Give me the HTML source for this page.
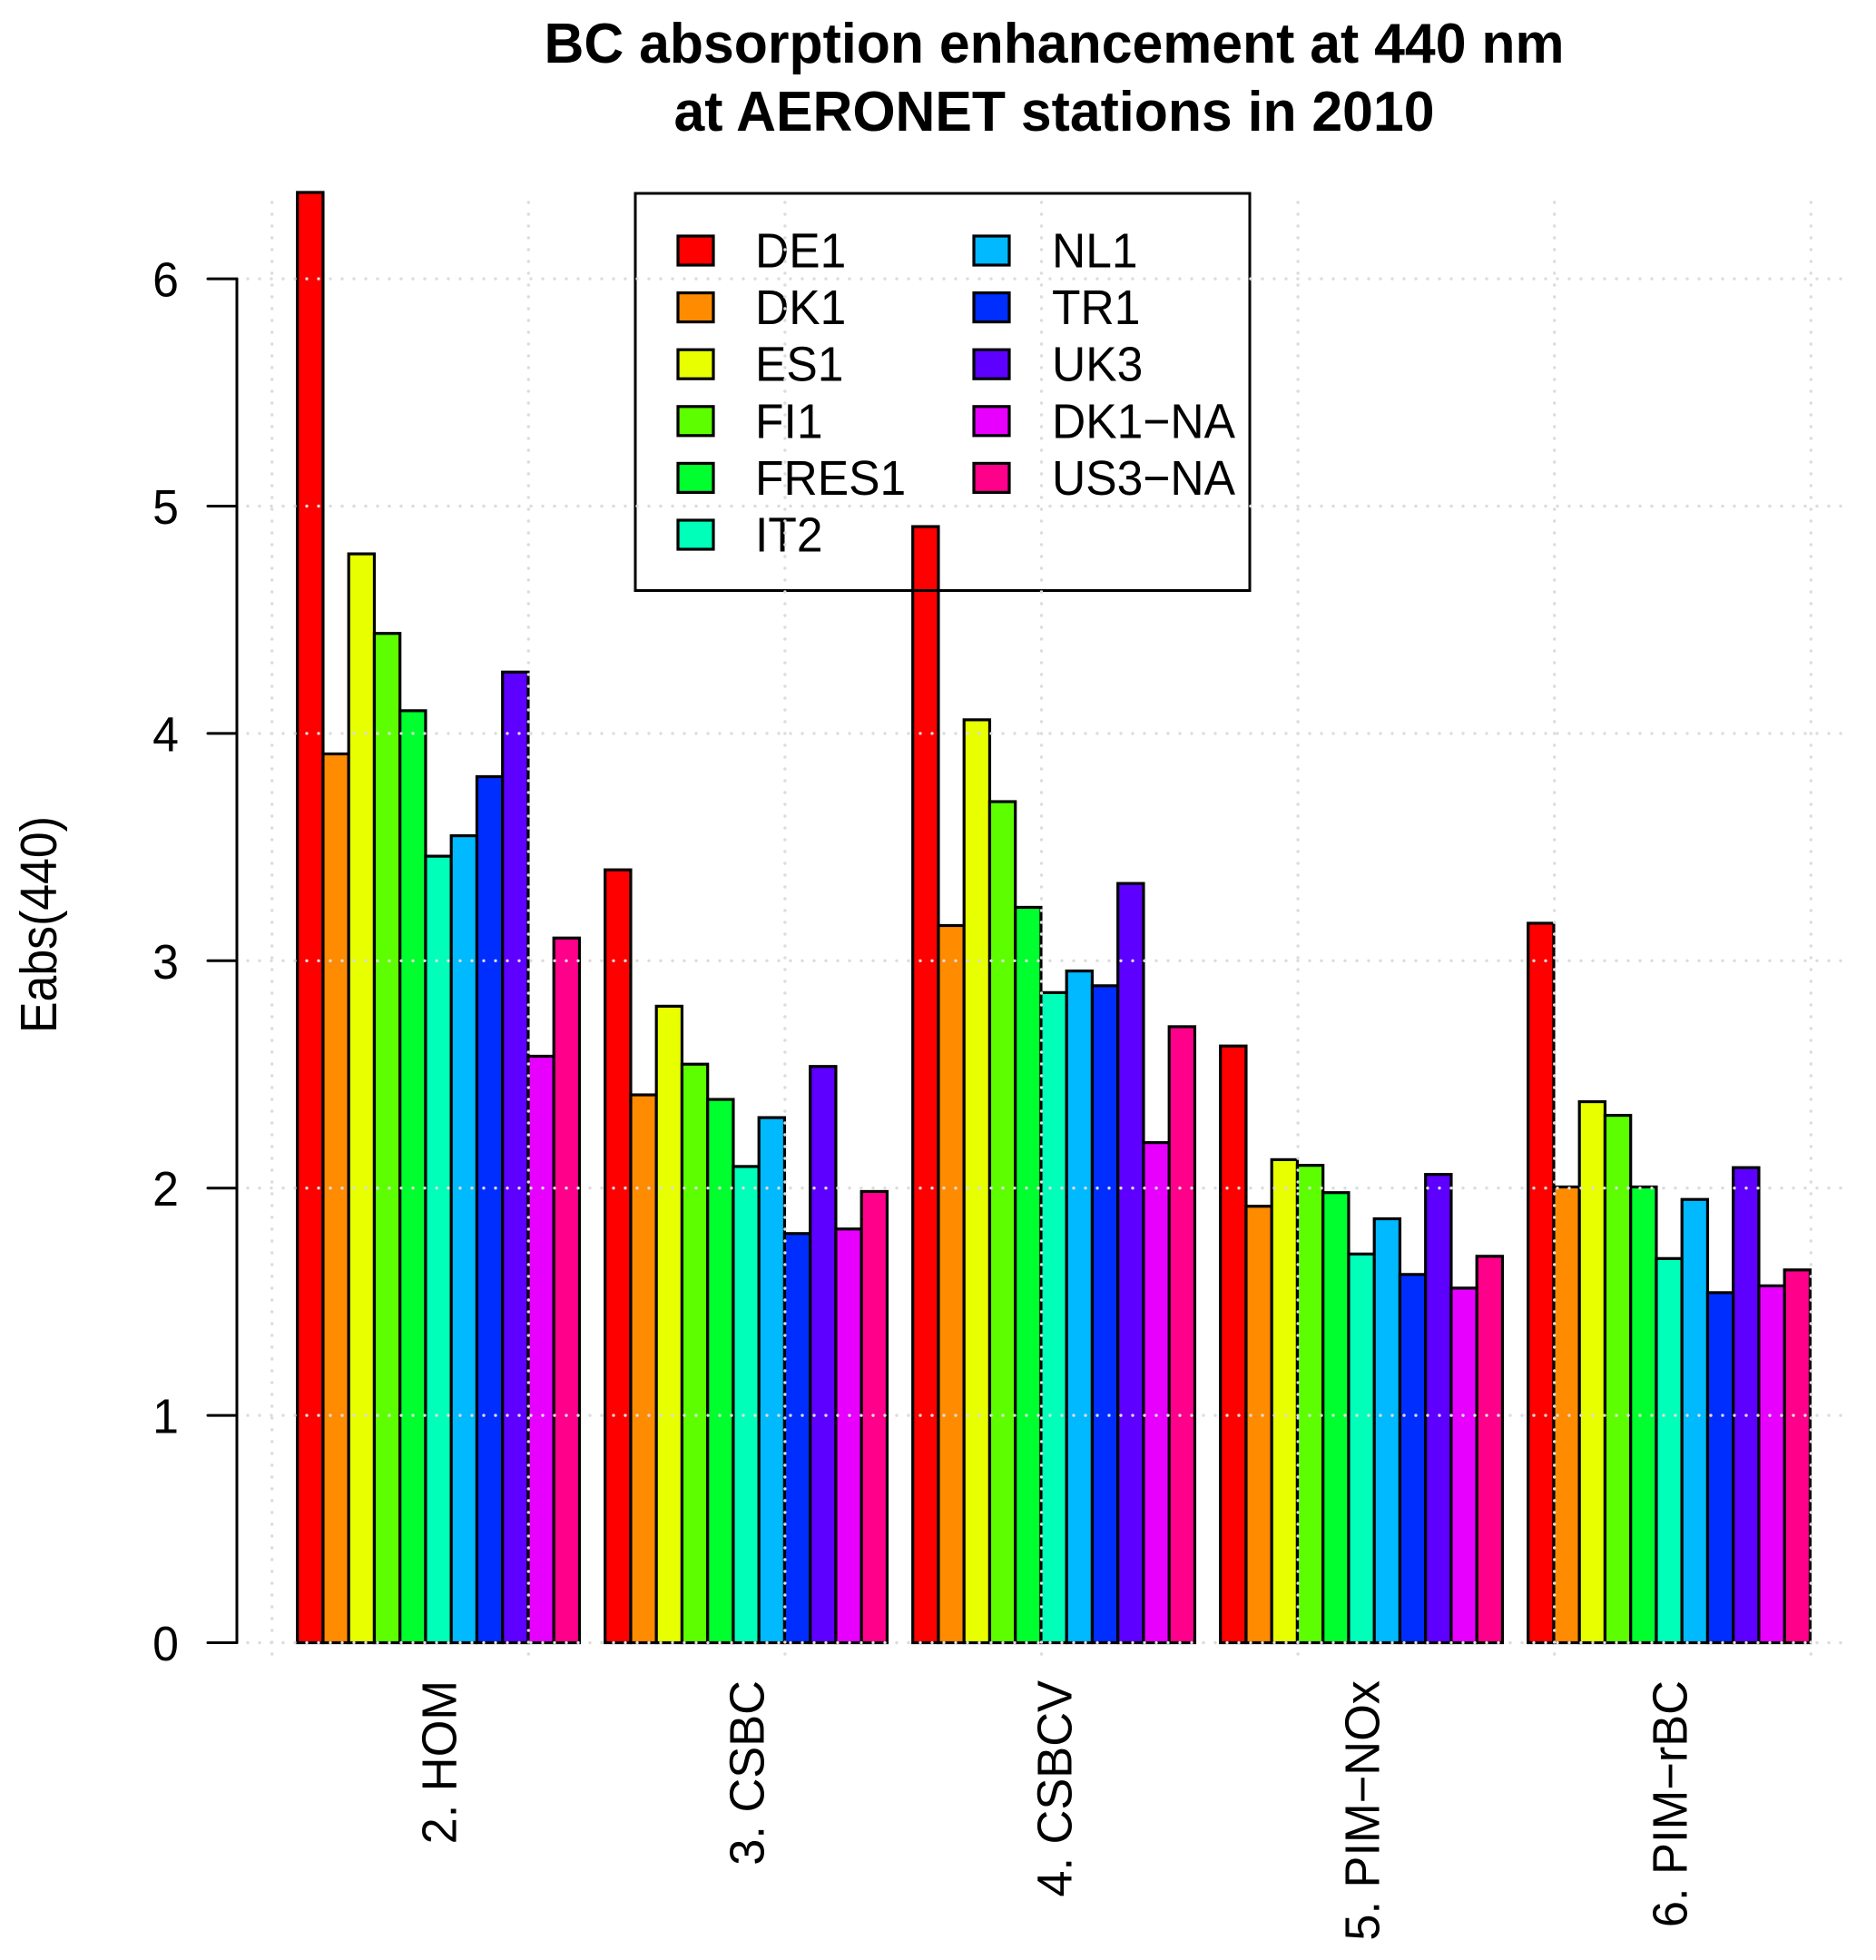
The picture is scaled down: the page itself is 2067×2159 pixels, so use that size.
<!DOCTYPE html>
<html lang="en">
<head>
<meta charset="utf-8">
<title>BC absorption enhancement at 440 nm</title>
<style>
html,body{margin:0;padding:0;background:#fff;}
svg{display:block;}
text{font-family:"Liberation Sans",Arial,sans-serif;fill:#000;}
</style>
</head>
<body>
<svg id="chart" xmlns="http://www.w3.org/2000/svg" width="2067" height="2159" viewBox="0 0 2067 2159">
<rect x="0" y="0" width="2067" height="2159" fill="#ffffff"/>
<text x="1161.5" y="69" text-anchor="middle" font-size="62" font-weight="bold" textLength="1124" lengthAdjust="spacingAndGlyphs">BC absorption enhancement at 440 nm</text>
<text x="1161.5" y="144" text-anchor="middle" font-size="62" font-weight="bold" textLength="838" lengthAdjust="spacingAndGlyphs">at AERONET stations in 2010</text>
<text transform="translate(62,1138) rotate(-90)" font-size="57" textLength="239" lengthAdjust="spacingAndGlyphs">Eabs(440)</text>
<g id="bars"></g>
<g id="legend"></g>
<g id="grid"></g>
<g id="y-axis"></g>
<g id="x-labels"></g>
</svg>
<script>
const categories = ["2. HOM", "3. CSBC", "4. CSBCV", "5. PIM\u2212NOx", "6. PIM\u2212rBC"];
const stations = ["DE1", "DK1", "ES1", "FI1", "FRES1", "IT2", "NL1", "TR1", "UK3", "DK1\u2212NA", "US3\u2212NA"];
const homValues = [6.38, 3.91, 4.79, 4.44, 4.10, 3.46, 3.55, 3.81, 4.27, 2.58, 3.10];
const csbcValues = [3.40, 2.41, 2.80, 2.545, 2.39, 2.095, 2.31, 1.80, 2.535, 1.82, 1.985];
const csbcvValues = [4.91, 3.155, 4.06, 3.70, 3.235, 2.86, 2.955, 2.89, 3.34, 2.20, 2.71];
const pimNoxValues = [2.625, 1.92, 2.125, 2.10, 1.98, 1.71, 1.865, 1.62, 2.06, 1.56, 1.70];
const pimRbcValues = [3.165, 2.005, 2.38, 2.32, 2.005, 1.69, 1.95, 1.54, 2.09, 1.57, 1.64];
const seriesByCategory = [homValues, csbcValues, csbcvValues, pimNoxValues, pimRbcValues];
const yTickLabels = [0, 1, 2, 3, 4, 5, 6];
const stationColors = ["#FF0000", "#FF8B00", "#E8FF00", "#5DFF00", "#00FF2E", "#00FFB9", "#00B9FF", "#002EFF", "#5D00FF", "#E800FF", "#FF008B"];

const SVG_NS = "http://www.w3.org/2000/svg";
const BAR_WIDTH = 28.25;
const GROUP_STEP = 339;
const FIRST_BAR_LEFT = 327.7;
const Y_ZERO = 1809.5;
const Y_UNIT = 250.4;

function yScale(value) {
  return Y_ZERO - value * Y_UNIT;
}
function xScale(groupIndex, barIndex) {
  return FIRST_BAR_LEFT + groupIndex * GROUP_STEP + barIndex * BAR_WIDTH;
}
function make(tag, parent, attrs, content) {
  const el = document.createElementNS(SVG_NS, tag);
  Object.keys(attrs).forEach(function (k) { el.setAttribute(k, attrs[k]); });
  if (content !== undefined) el.textContent = content;
  parent.appendChild(el);
  return el;
}

const barsLayer = document.getElementById("bars");
seriesByCategory.forEach(function (values, g) {
  values.forEach(function (value, i) {
    const top = yScale(value);
    const el = make("rect", barsLayer, {
      x: xScale(g, i), y: top, width: BAR_WIDTH, height: Y_ZERO - top,
      fill: stationColors[i], stroke: "#000", "stroke-width": 3.2
    });
    
    
  });
});

const legendLayer = document.getElementById("legend");
const legendBox = make("rect", legendLayer, { x: 700, y: 213, width: 677, height: 437.5, fill: "none", stroke: "#000", "stroke-width": 3 });


stations.forEach(function (station, i) {
  const col = i < 6 ? 0 : 1;
  const row = i < 6 ? i : i - 6;
  const keyX = col === 0 ? 747 : 1073;
  const textX = col === 0 ? 832 : 1159;
  const keyY = 260 + row * 62.6;
  const key = make("rect", legendLayer, { x: keyX, y: keyY, width: 39, height: 32, fill: stationColors[i], stroke: "#000", "stroke-width": 3.2 });
  
  
  const label = make("text", legendLayer, { transform: "translate(" + textX + "," + (keyY + 34.5) + ") scale(0.955,1)", "font-size": 54 }, station);
  
  
});

const gridLayer = document.getElementById("grid");
yTickLabels.forEach(function (tick) {
  const line = make("line", gridLayer, { x1: 273, x2: 2040, y1: yScale(tick), y2: yScale(tick), stroke: "#dcdcdc", "stroke-width": 3.4, "stroke-linecap": "round", "stroke-dasharray": "0 13" });
  
  
});
for (let k = 0; k < 7; k++) {
  const gx = 299.7 + k * 282.6;
  const line = make("line", gridLayer, { x1: gx, x2: gx, y1: 223, y2: 1824, stroke: "#dcdcdc", "stroke-width": 3.4, "stroke-linecap": "round", "stroke-dasharray": "0 13" });
  
  
}

const axisLayer = document.getElementById("y-axis");
const axisLine = make("line", axisLayer, { x1: 261, x2: 261, y1: yScale(6), y2: yScale(0), stroke: "#000", "stroke-width": 3, "stroke-linecap": "round" });


yTickLabels.forEach(function (tick) {
  const mark = make("line", axisLayer, { x1: 229, x2: 261, y1: yScale(tick), y2: yScale(tick), stroke: "#000", "stroke-width": 3, "stroke-linecap": "round" });
  
  
  const label = make("text", axisLayer, { transform: "translate(197," + (yScale(tick) + 19.5) + ") scale(0.96,1)", "text-anchor": "end", "font-size": 54 }, String(tick));
  
  
});

const xLabelLayer = document.getElementById("x-labels");
categories.forEach(function (name, g) {
  const center = xScale(g, stations.length / 2);
  const label = make("text", xLabelLayer, { transform: "translate(" + (center + 19.5) + ",1851) rotate(-90) scale(0.97,1)", "text-anchor": "end", "font-size": 54 }, name);
  
  
});
</script>
</body>
</html>
